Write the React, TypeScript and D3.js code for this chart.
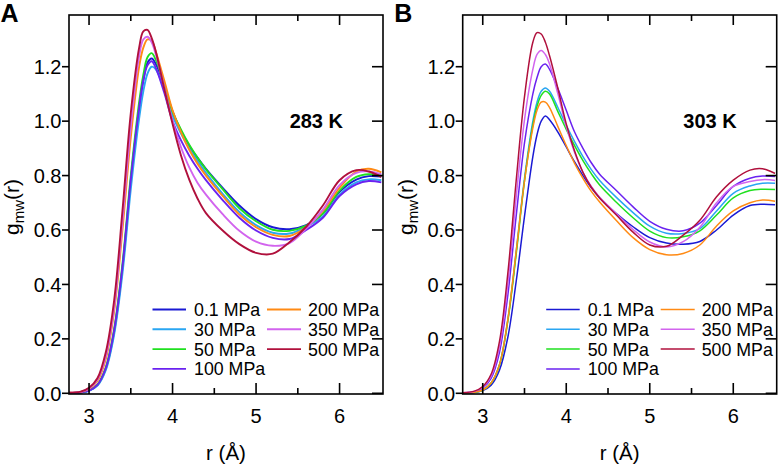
import React from "react";
import * as d3 from "d3";

const R = [2.76, 2.9, 3.0, 3.1, 3.2, 3.3, 3.4, 3.5, 3.6, 3.65, 3.7, 3.75, 3.8, 3.9, 4.0, 4.1, 4.2, 4.3, 4.4, 4.6, 4.8, 5.0, 5.2, 5.4, 5.6, 5.8, 6.0, 6.2, 6.35, 6.5];

const pressures = ["0.1 MPa", "30 MPa", "50 MPa", "100 MPa", "200 MPa", "350 MPa", "500 MPa"];
const colors = ["#1a1ad4", "#2aa6f2", "#1fe01f", "#6a22f0", "#ff8a14", "#d264ee", "#b0103c"];

// 283 K
const A_01 = [0.001, 0.003, 0.01, 0.03, 0.09, 0.225, 0.46, 0.78, 1.05, 1.15, 1.215, 1.23, 1.21, 1.13, 1.035, 0.965, 0.91, 0.865, 0.825, 0.755, 0.69, 0.64, 0.61, 0.603, 0.618, 0.66, 0.74, 0.785, 0.798, 0.796];
const A_30 = [0.001, 0.003, 0.009, 0.028, 0.085, 0.215, 0.44, 0.75, 1.01, 1.11, 1.175, 1.2, 1.19, 1.115, 1.02, 0.955, 0.9, 0.853, 0.81, 0.733, 0.666, 0.618, 0.59, 0.587, 0.612, 0.65, 0.73, 0.775, 0.786, 0.783];
const A_50 = [0.001, 0.003, 0.011, 0.032, 0.095, 0.235, 0.475, 0.8, 1.07, 1.17, 1.235, 1.25, 1.225, 1.135, 1.035, 0.97, 0.913, 0.865, 0.823, 0.75, 0.68, 0.632, 0.601, 0.597, 0.616, 0.66, 0.745, 0.795, 0.805, 0.8];
const A_100 = [0.001, 0.003, 0.01, 0.031, 0.092, 0.23, 0.465, 0.785, 1.05, 1.15, 1.205, 1.22, 1.195, 1.105, 1.0, 0.93, 0.873, 0.825, 0.783, 0.71, 0.645, 0.598, 0.571, 0.567, 0.6, 0.645, 0.725, 0.768, 0.78, 0.775];
const A_200 = [0.002, 0.005, 0.016, 0.045, 0.125, 0.3, 0.6, 0.94, 1.2, 1.27, 1.3, 1.295, 1.255, 1.15, 1.04, 0.96, 0.895, 0.843, 0.8, 0.725, 0.657, 0.61, 0.582, 0.578, 0.61, 0.67, 0.755, 0.815, 0.825, 0.812];
const A_350 = [0.002, 0.005, 0.018, 0.05, 0.135, 0.315, 0.63, 0.98, 1.24, 1.3, 1.31, 1.29, 1.245, 1.125, 1.0, 0.905, 0.83, 0.773, 0.73, 0.658, 0.597, 0.557, 0.542, 0.552, 0.605, 0.675, 0.765, 0.81, 0.815, 0.805];
const A_500 = [0.002, 0.006, 0.02, 0.055, 0.15, 0.34, 0.67, 1.03, 1.27, 1.33, 1.335, 1.305, 1.255, 1.12, 0.99, 0.875, 0.785, 0.715, 0.662, 0.598, 0.548, 0.516, 0.513, 0.555, 0.612, 0.69, 0.783, 0.82, 0.815, 0.795];

// 303 K
const B_01 = [0.001, 0.003, 0.01, 0.03, 0.085, 0.205, 0.41, 0.65, 0.87, 0.95, 1.0, 1.019, 1.005, 0.96, 0.905, 0.85, 0.8, 0.755, 0.718, 0.66, 0.612, 0.572, 0.552, 0.548, 0.558, 0.6, 0.655, 0.69, 0.695, 0.693];
const B_30 = [0.001, 0.004, 0.012, 0.038, 0.105, 0.27, 0.52, 0.79, 1.0, 1.07, 1.11, 1.122, 1.11, 1.05, 0.985, 0.925, 0.87, 0.822, 0.782, 0.72, 0.664, 0.614, 0.588, 0.587, 0.605, 0.67, 0.735, 0.762, 0.772, 0.772];
const B_50 = [0.001, 0.004, 0.012, 0.037, 0.103, 0.265, 0.51, 0.78, 0.985, 1.055, 1.095, 1.11, 1.1, 1.035, 0.97, 0.91, 0.855, 0.807, 0.765, 0.702, 0.645, 0.596, 0.572, 0.575, 0.597, 0.655, 0.718, 0.745, 0.75, 0.749];
const B_100 = [0.002, 0.006, 0.019, 0.055, 0.15, 0.36, 0.65, 0.92, 1.1, 1.16, 1.2, 1.21, 1.19, 1.12, 1.04, 0.96, 0.9, 0.847, 0.805, 0.745, 0.685, 0.632, 0.603, 0.597, 0.625, 0.69, 0.76, 0.79, 0.798, 0.797];
const B_200 = [0.001, 0.004, 0.012, 0.038, 0.105, 0.27, 0.52, 0.78, 0.975, 1.04, 1.07, 1.07, 1.05, 0.98, 0.91, 0.845, 0.79, 0.742, 0.703, 0.635, 0.572, 0.528, 0.509, 0.514, 0.545, 0.615, 0.67, 0.7, 0.71, 0.706];
const B_350 = [0.002, 0.007, 0.022, 0.062, 0.17, 0.4, 0.72, 1.005, 1.19, 1.245, 1.26, 1.245, 1.21, 1.1, 0.98, 0.885, 0.812, 0.76, 0.72, 0.66, 0.602, 0.556, 0.538, 0.557, 0.61, 0.7, 0.76, 0.778, 0.785, 0.782];
const B_500 = [0.002, 0.008, 0.025, 0.07, 0.19, 0.44, 0.78, 1.09, 1.29, 1.325, 1.32, 1.29, 1.24, 1.12, 0.99, 0.89, 0.812, 0.757, 0.718, 0.655, 0.592, 0.545, 0.54, 0.581, 0.636, 0.722, 0.783, 0.82, 0.825, 0.808];

const seriesA = [A_01, A_30, A_50, A_100, A_200, A_350, A_500];
const seriesB = [B_01, B_30, B_50, B_100, B_200, B_350, B_500];

const xMajor = [3, 4, 5, 6];
const xMinor = [3.5, 4.5, 5.5];
const yTicks = [0, 0.2, 0.4, 0.6, 0.8, 1.0, 1.2];

const FONT = "'Liberation Sans', Arial, Helvetica, sans-serif";
const W = 314;
const TOP = 15;
const BOTTOM = 394;

function Panel({ left, series, letter, temp, lw, id }) {
  const x = d3.scaleLinear().domain([2.76, 6.52]).range([left, left + W]);
  const y = d3.scaleLinear().domain([0, 1.39]).range([393.3, TOP]);
  const line = d3
    .line()
    .x((d) => x(d[0]))
    .y((d) => y(d[1]))
    .curve(d3.curveCatmullRom.alpha(0.5));
  const right = left + W;
  const rows = [309.5, 329.3, 349.1, 368.9];
  const col1 = [0, 1, 2, 3];
  const col2 = [4, 5, 6];
  return (
    <g>
      <defs>
        <clipPath id={id}>
          <rect x={left} y={TOP} width={W} height={BOTTOM - TOP} />
        </clipPath>
      </defs>
      <g clipPath={`url(#${id})`}>
        {series.map((vals, i) => (
          <path
            key={i}
            d={line(R.map((r, k) => [r, vals[k]]))}
            fill="none"
            stroke={colors[i]}
            strokeWidth={lw}
            strokeLinejoin="round"
          />
        ))}
      </g>
      <rect x={left} y={TOP} width={W} height={BOTTOM - TOP} fill="none" stroke="#000" strokeWidth={1.6} />
      {xMajor.map((t) => (
        <g key={"xm" + t}>
          <line x1={x(t)} x2={x(t)} y1={BOTTOM} y2={BOTTOM - 11} stroke="#000" strokeWidth={1.6} />
          <line x1={x(t)} x2={x(t)} y1={TOP} y2={TOP + 10} stroke="#000" strokeWidth={1.6} />
          <text x={x(t)} y={423} textAnchor="middle" fontSize={20} fontFamily={FONT}>
            {t}
          </text>
        </g>
      ))}
      {xMinor.map((t) => (
        <g key={"xn" + t}>
          <line x1={x(t)} x2={x(t)} y1={BOTTOM} y2={BOTTOM - 6} stroke="#000" strokeWidth={1.6} />
          <line x1={x(t)} x2={x(t)} y1={TOP} y2={TOP + 6} stroke="#000" strokeWidth={1.6} />
        </g>
      ))}
      {yTicks.map((t) => (
        <g key={"y" + t}>
          <line x1={left - 7} x2={left} y1={y(t)} y2={y(t)} stroke="#000" strokeWidth={1.6} />
          <line x1={right - 11} x2={right} y1={y(t)} y2={y(t)} stroke="#000" strokeWidth={1.6} />
          <text x={left - 7.5} y={y(t)} dy="0.36em" textAnchor="end" fontSize={20} fontFamily={FONT}>
            {t.toFixed(1)}
          </text>
        </g>
      ))}
      <text x={left + W / 2} y={460} textAnchor="middle" fontSize={20.5} fontFamily={FONT}>
        r (Å)
      </text>
      <text
        transform={`translate(${left - 50},207) rotate(-90)`}
        textAnchor="middle"
        fontSize={21}
        fontFamily={FONT}
      >
        g
        <tspan fontSize={15} dy={5}>
          mw
        </tspan>
        <tspan dy={-5}>(r)</tspan>
      </text>
      <text x={left - 68.5} y={22} fontSize={25} fontWeight="bold" fontFamily={FONT}>
        {letter}
      </text>
      <text x={left + 274} y={128} textAnchor="end" fontSize={20} fontWeight="bold" fontFamily={FONT}>
        {temp}
      </text>
      {col1.map((si, r) => (
        <g key={"l1" + si}>
          <line x1={left + 83.5} x2={left + 117} y1={rows[r]} y2={rows[r]} stroke={colors[si]} strokeWidth={lw} />
          <text x={left + 125} y={rows[r] + 6.5} fontSize={17.8} fontFamily={FONT}>
            {pressures[si]}
          </text>
        </g>
      ))}
      {col2.map((si, r) => (
        <g key={"l2" + si}>
          <line x1={left + 198} x2={left + 232} y1={rows[r]} y2={rows[r]} stroke={colors[si]} strokeWidth={lw} />
          <text x={left + 239} y={rows[r] + 6.5} fontSize={17.8} fontFamily={FONT}>
            {pressures[si]}
          </text>
        </g>
      ))}
    </g>
  );
}

export default function App() {
  return (
    <svg
      width={780}
      height={466}
      viewBox="0 0 780 466"
      style={{ position: "absolute", left: 0, top: 0, display: "block", background: "#fff" }}
    >
      <rect x={0} y={0} width={780} height={466} fill="#fff" />
      <Panel left={69} series={seriesA} letter="A" temp="283 K" lw={1.9} id="clipA" />
      <Panel left={462.7} series={seriesB} letter="B" temp="303 K" lw={1.5} id="clipB" />
    </svg>
  );
}
